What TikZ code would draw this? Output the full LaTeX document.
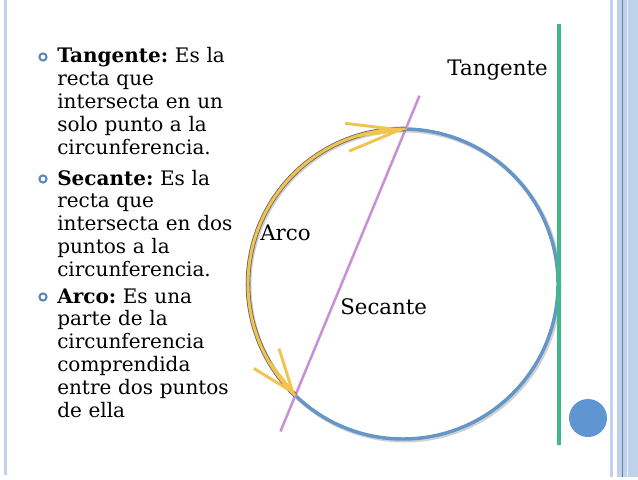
\documentclass[tikz,border=0pt]{standalone}
\usepackage{fontspec}
\setmainfont{DejaVu Serif}
\usetikzlibrary{arrows.meta,calc}
\definecolor{circblue}{RGB}{100,150,200}
\definecolor{tangreen}{RGB}{65,185,135}
\definecolor{secviolet}{RGB}{200,145,215}
\definecolor{arcyellow}{RGB}{240,196,78}
\definecolor{dotblue}{RGB}{95,150,210}
\definecolor{frameblue}{RGB}{192,210,234}
\definecolor{framedark}{RGB}{95,125,175}
\definecolor{bulletblue}{RGB}{85,135,185}
\frenchspacing
\begin{document}
\begin{tikzpicture}[x=0.75pt,y=0.75pt,
  texto/.style={anchor=base west, inner sep=0pt, align=left, text width=150pt,
    font=\fontsize{15}{17.1}\selectfont},
  vineta/.style={circle, draw=bulletblue, line width=1.5pt, minimum size=5.4pt, inner sep=0pt},
  etiqueta/.style={inner sep=0pt, font=\fontsize{16}{18}\selectfont},
  sombra/.style={draw=black!40, line width=3pt, opacity=0.45},
  arco/.style={arcyellow, line width=2.2pt},
  barbaA/.tip={Straight Barb[length=40pt, width=21pt]},
  barbaB/.tip={Straight Barb[length=32pt, width=24pt]}]
\useasboundingbox (0,0) rectangle (638,479);
\fill[frameblue] (3.5,4) rectangle (6.5,479);
\fill[frameblue] (610,2) rectangle (613,479);
\fill[frameblue] (617,2) rectangle (638,479);
\draw[framedark, line width=0.6pt] (622,2) -- (622,479);
\draw[white!70!frameblue, line width=0.5pt] (627,2) -- (627,479);

\node[vineta] (vTang) at (43,422) {};
\node[vineta] (vSec) at (43,300) {};
\node[vineta] (vArc) at (43,182) {};
\node[texto] (tangDef) at (57,416) {\textbf{Tangente:} Es la\\recta que\\intersecta en un\\solo punto a la\\circunferencia.};
\node[texto] (secDef) at (57,294) {\textbf{Secante:} Es la\\recta que\\intersecta en dos\\puntos a la\\circunferencia.};
\node[texto] (arcDef) at (57,176) {\textbf{Arco:} Es una\\parte de la\\circunferencia\\comprendida\\entre dos puntos\\de ella};

\coordinate (O) at (403,195);
\coordinate (P) at ($(O)+(89:155)$);
\coordinate (Q) at ($(O)+(226:155)$);
\coordinate (hA) at ($(O)+(107:155)$);
\coordinate (hB) at ($(O)+(210:155)$);
\coordinate (tArr) at (559,455);
\coordinate (tAbj) at (559,34);
\coordinate (sArr) at ($(P)!-0.125!(Q)$);
\coordinate (sAbj) at ($(Q)!-0.135!(P)$);

\draw[sombra] ([shift={(1.5,-1.5)}]O) circle[radius=155];
\draw[circblue, line width=2.6pt] (O) circle[radius=155];
\draw[tangreen, line width=2.4pt] (tArr) -- (tAbj);
\draw[secviolet, line width=1.9pt] (sArr) -- (sAbj);
\draw[black!60, line width=3.4pt] (P) arc[start angle=89, end angle=226, radius=155];
\draw[arco] (P) arc[start angle=89, end angle=226, radius=155];
\draw[arco, -barbaA] (hA) -- (P);
\draw[arco, -barbaB] (hB) -- (Q);

\node[etiqueta, anchor=base east] (lTang) at (548,403) {Tangente};
\node[etiqueta, anchor=base west] (lArco) at (260,239) {Arco};
\node[etiqueta, anchor=base west] (lSec) at (340,165) {Secante};
\node[circle, fill=dotblue, minimum size=28.5pt, inner sep=0pt] (punto) at (588,61) {};
\end{tikzpicture}
\end{document}
